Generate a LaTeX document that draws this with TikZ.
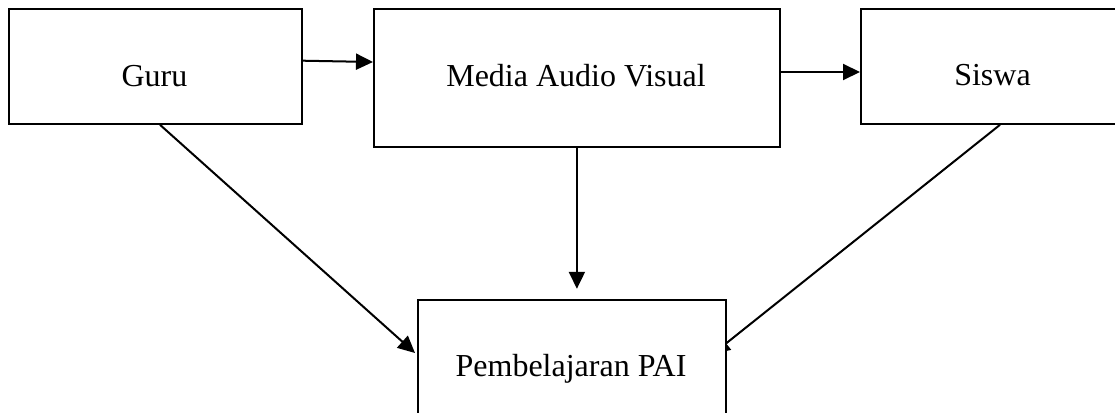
\documentclass[tikz,border=0pt]{standalone}
\usepackage{fontspec}
\setmainfont{Liberation Serif}
\usetikzlibrary{arrows.meta,calc,backgrounds}
\begin{document}
\begin{tikzpicture}[x=1pt,y=-1pt,
  box/.style={draw,line width=1.8pt,fill=white,rectangle,inner sep=0pt,anchor=north west},
  lbl/.style={font=\fontsize{32}{38}\selectfont,anchor=base,inner sep=0pt},
  conn/.style={line width=2pt,-{Triangle[length=17pt,width=16pt]}}]
\path[use as bounding box] (0,0) rectangle (1115,412);
\begin{scope}[on background layer]
\fill[white] (0,0) rectangle (1115,412);
\end{scope}
% boxes
\node[box,minimum width=293pt,minimum height=115pt] (guru) at (8,8) {};
\node[box,minimum width=406pt,minimum height=138pt] (media) at (373,8) {};
\node[box,minimum width=265pt,minimum height=115pt] (siswa) at (860,8) {};
\node[box,minimum width=308pt,minimum height=134pt] (pai) at (417,299) {};
% labels
\node[lbl] (gurut) at (154.5,86) {Guru};
\node[lbl] (mediat) at (576,86) {Media Audio Visual};
\node[lbl] (siswat) at (992.5,85) {Siswa};
\node[lbl] (pait) at (571,376) {Pembelajaran PAI};
% connectors
\draw[conn] ($(guru.north east)+(0,52.7)$) -- ($(media.north west)+(0,54)$);
\draw[conn] ($(media.north east)+(0,64)$) -- ($(siswa.north west)+(0,64)$);
\draw[conn] (media.south) -- ($(media.south)+(0,141)$);
\draw[conn] ($(guru.south west)+(152,0)$) -- ($(pai.north west)+(-2,54)$);
\begin{scope}[on background layer]
\draw[conn] ($(siswa.south west)+(140,0)$) -- ($(pai.north east)+(-14,55)$);
\end{scope}
\end{tikzpicture}
\end{document}
